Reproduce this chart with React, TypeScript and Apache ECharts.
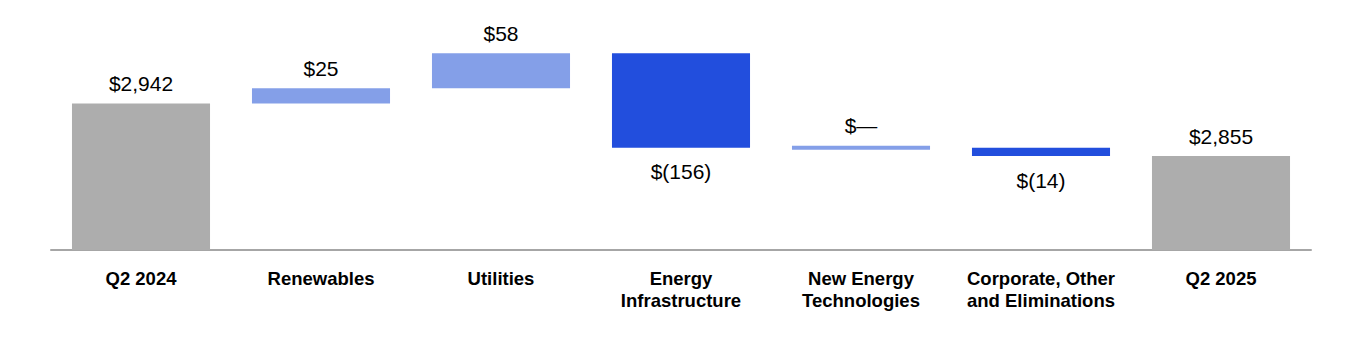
import React, { useEffect, useRef } from "react";
import * as echarts from "echarts";

const categories = [
  "Q2 2024",
  "Renewables",
  "Utilities",
  "Energy\nInfrastructure",
  "New Energy\nTechnologies",
  "Corporate, Other\nand Eliminations",
  "Q2 2025",
];
const changes = [2942, 25, 58, -156, 0, -14, 2855];
const valueLabels = ["$2,942", "$25", "$58", "$(156)", "$—", "$(14)", "$2,855"];
const isTotal = [true, false, false, false, false, false, true];

const Y_MIN = 2700;
const Y_MAX = 3050;

export default function App() {
  const ref = useRef<HTMLDivElement>(null);
  useEffect(() => {
    const chart = echarts.init(ref.current!, null, { renderer: "svg" });
    let running = 0;
    const data = changes.map((v, i) => {
      let start: number;
      let end: number;
      if (isTotal[i]) {
        start = Y_MIN;
        end = v;
        running = v;
      } else {
        start = running;
        end = running + v;
        running = end;
      }
      return [i, start, end, v, isTotal[i] ? 1 : 0];
    });

    const renderItem = (params: any, api: any) => {
      const i = api.value(0);
      const s = api.value(1);
      const e = api.value(2);
      const v = api.value(3);
      const total = api.value(4) === 1;
      const p1 = api.coord([i, s]);
      const p2 = api.coord([i, e]);
      const w = api.size([1, 0])[0] * 0.767;
      let top = Math.min(p1[1], p2[1]);
      let bottom = Math.max(p1[1], p2[1]);
      if (bottom - top < 4) {
        const mid = (top + bottom) / 2;
        top = mid - 2;
        bottom = mid + 2;
      }
      const fill = total ? "#ADADAD" : v < 0 ? "#224EDD" : "#849FE8";
      const ly = v < 0 ? bottom + 24 : top - 20;
      return {
        type: "group",
        children: [
          {
            type: "rect",
            shape: { x: p1[0] - w / 2, y: top, width: w, height: bottom - top },
            style: { fill },
          },
          {
            type: "text",
            x: p1[0],
            y: ly,
            style: {
              text: valueLabels[params.dataIndex],
              fontSize: 21,
              fontFamily: "'Liberation Sans', Arial, sans-serif",
              fill: "#000",
              align: "center",
              verticalAlign: "middle",
            },
          },
        ],
      };
    };

    chart.setOption({
      animation: false,
      grid: { left: 51, right: 49, top: 38, bottom: 100 },
      xAxis: {
        type: "category",
        data: categories,
        axisLine: { onZero: false, lineStyle: { color: "#A6A6A6", width: 2 } },
        axisTick: { show: false },
        axisLabel: {
          interval: 0,
          fontWeight: "bold",
          fontSize: 18.5,
          lineHeight: 22,
          color: "#000",
          margin: 17,
          fontFamily: "'Liberation Sans', Arial, sans-serif",
        },
      },
      yAxis: { type: "value", min: Y_MIN, max: Y_MAX, show: false },
      series: [
        {
          type: "custom",
          renderItem,
          data,
          encode: { x: 0, y: [1, 2] },
          z: 1,
        },
      ],
    });
    return () => chart.dispose();
  }, []);
  return (
    <div
      ref={ref}
      style={{ position: "fixed", left: 0, top: 0, width: 1360, height: 350, background: "#fff" }}
    />
  );
}
